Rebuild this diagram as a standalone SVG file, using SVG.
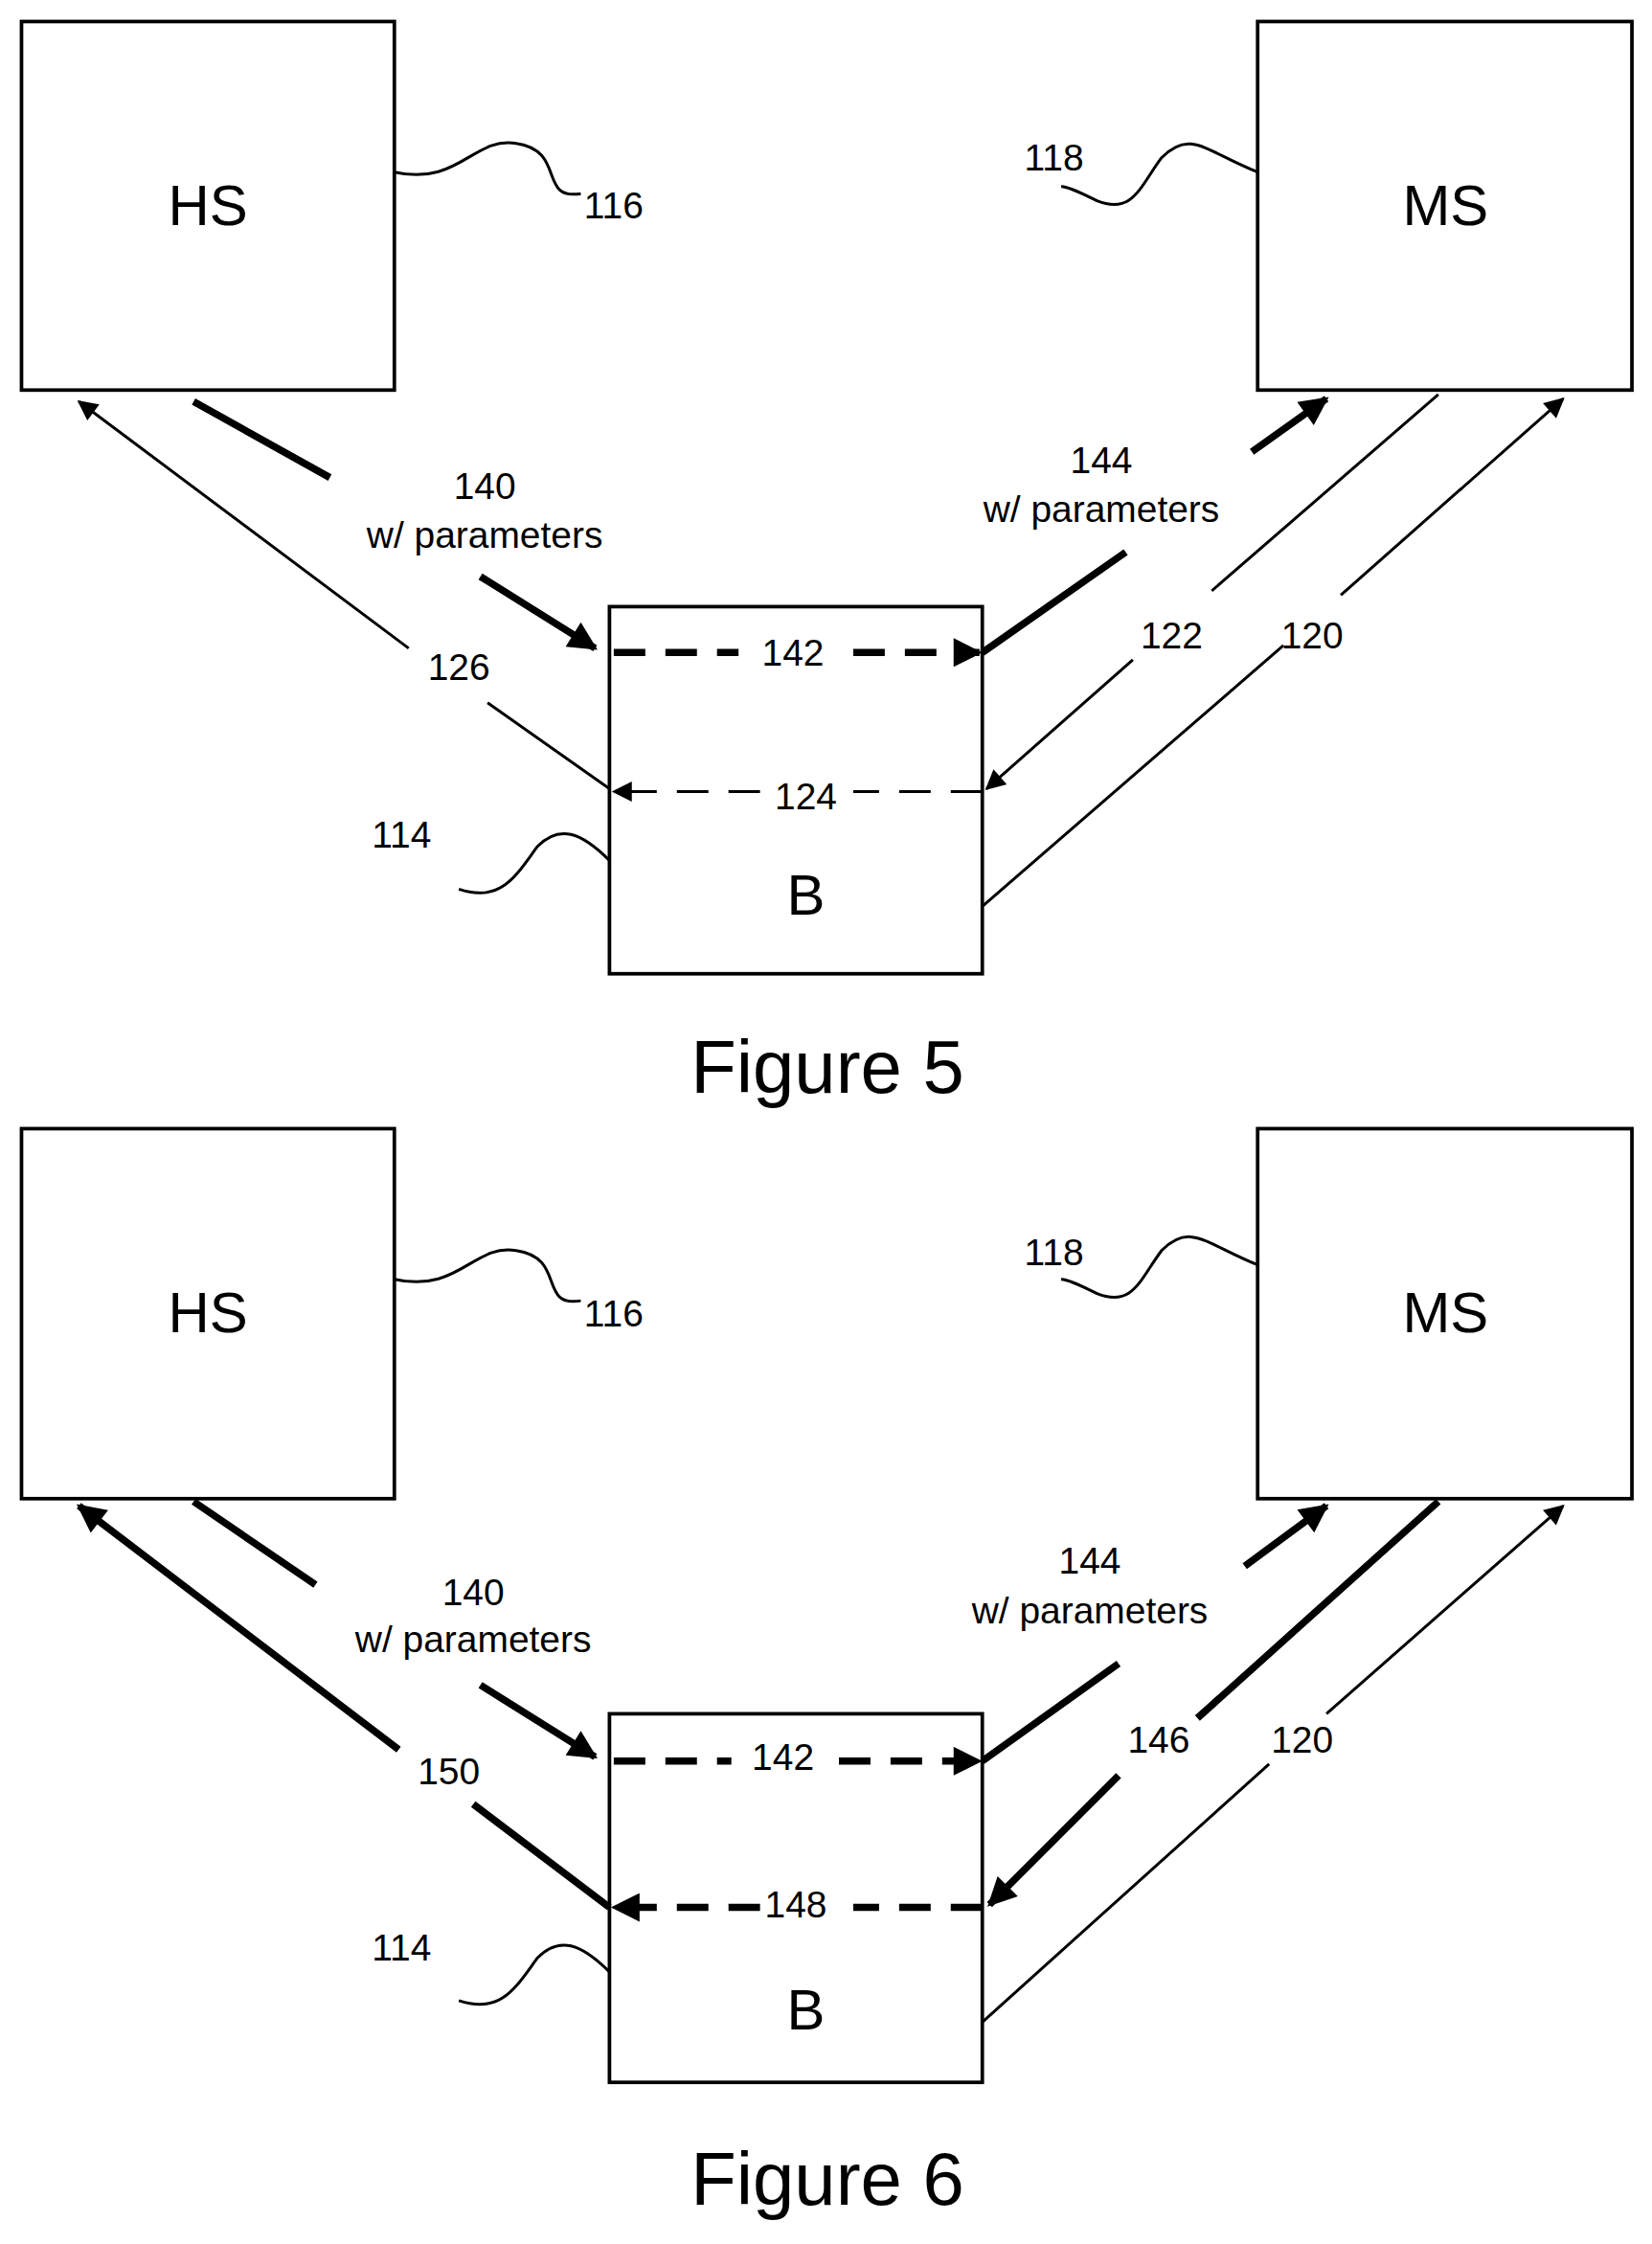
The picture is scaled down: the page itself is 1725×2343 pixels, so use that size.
<svg xmlns="http://www.w3.org/2000/svg" width="1725" height="2343" viewBox="0 0 1725 2343">
<defs>
<style>
.box{fill:#fff;stroke:#000;stroke-width:2.5}
.t{font-family:"Liberation Sans",Arial,sans-serif;text-anchor:middle;fill:#000}
.big{font-size:40px}.num{font-size:26px}.fig{font-size:52px}
.thin{stroke:#000;stroke-width:2;fill:none}
.thick{stroke:#000;stroke-width:5;fill:none}
.dash{stroke-dasharray:22,14}
</style>
<marker id="at" viewBox="0 0 10 10" refX="9" refY="5" markerWidth="22" markerHeight="14" orient="auto" markerUnits="userSpaceOnUse"><path d="M0,0L10,5L0,10z" fill="#000"/></marker>
<marker id="atk" viewBox="0 0 10 10" refX="9" refY="5" markerWidth="5" markerHeight="4" orient="auto"><path d="M0,0L10,5L0,10z" fill="#000"/></marker>
</defs>
<rect width="1725" height="2343" fill="#fff"/>
<g transform="scale(1.4974)">
<g id="fig5">
<g id="hs5"><rect class="box" x="15" y="15" width="260" height="257"/><text class="t big" x="145" y="157">HS</text></g>
<g id="ms5"><rect class="box" x="877" y="15" width="261" height="257"/><text class="t big" x="1008" y="157">MS</text></g>
<g id="b5"><rect class="box" x="425" y="423" width="260" height="256"/><text class="t big" x="562" y="638">B</text></g>
<g id="connectors5">
<path class="thin" d="M275,120 C320,130 330,95 360,100 C395,105 375,140 405,135"/>
<path class="thin" d="M877,120 C840,105 830,90 810,110 C795,130 790,150 765,140 C755,135 745,130 740,130"/>
<path class="thin" d="M425,600 C405,580 390,575 375,590 C360,610 350,630 320,620"/>
<path class="thin" d="M425,550 L340,490 M285,452 L55,280" marker-end="url(#at)"/>
<path class="thick" d="M135,280 L230,333"/>
<path class="thick" d="M335,402 L415,452" marker-end="url(#atk)"/>
<path class="thick dash" d="M428,455 L515,455 M595,455 L683,455" marker-end="url(#atk)"/>
<path class="thick" d="M685,455 L785,385"/>
<path class="thick" d="M873,315 L925,278" marker-end="url(#atk)"/>
<path class="thin" d="M1003,275 L845,412 M790,460 L688,550" marker-end="url(#at)"/>
<path class="thin dash" d="M685,552 L595,552 M530,552 L428,552" marker-end="url(#at)"/>
<path class="thin" d="M685,632 L895,450 M935,415 L1090,278" marker-end="url(#at)"/>
<text class="t num" x="428" y="152">116</text>
<text class="t num" x="735" y="119">118</text>
<text class="t num" x="280" y="591">114</text>
<text class="t num" x="338" y="348">140</text>
<text class="t num" x="338" y="382">w/ parameters</text>
<text class="t num" x="768" y="330">144</text>
<text class="t num" x="768" y="364">w/ parameters</text>
<text class="t num" x="320" y="474">126</text>
<text class="t num" x="553" y="464">142</text>
<text class="t num" x="562" y="564">124</text>
<text class="t num" x="817" y="452">122</text>
<text class="t num" x="915" y="452">120</text>
</g>
<text class="t fig" x="577" y="762">Figure 5</text>
</g>
<g id="fig6">
<g id="hs6"><rect class="box" x="15" y="787" width="260" height="258"/><text class="t big" x="145" y="929">HS</text></g>
<g id="ms6"><rect class="box" x="877" y="787" width="261" height="258"/><text class="t big" x="1008" y="929">MS</text></g>
<g id="b6"><rect class="box" x="425" y="1195" width="260" height="257"/><text class="t big" x="562" y="1415">B</text></g>
<g id="connectors6">
<path class="thin" d="M275,892 C320,902 330,867 360,872 C395,877 375,912 405,907"/>
<path class="thin" d="M877,882 C840,867 830,852 810,872 C795,892 790,912 765,902 C755,897 745,892 740,892"/>
<path class="thin" d="M425,1375 C405,1355 390,1350 375,1365 C360,1385 350,1405 320,1395"/>
<path class="thick" d="M425,1330 L330,1258 M278,1220 L55,1050" marker-end="url(#atk)"/>
<path class="thick" d="M135,1047 L220,1105"/>
<path class="thick" d="M335,1175 L415,1225" marker-end="url(#atk)"/>
<path class="thick dash" d="M428,1228 L510,1228 M585,1228 L683,1228" marker-end="url(#atk)"/>
<path class="thick" d="M685,1228 L780,1160"/>
<path class="thick" d="M868,1092 L925,1050" marker-end="url(#atk)"/>
<path class="thick" d="M1003,1047 L835,1198 M780,1238 L690,1328" marker-end="url(#atk)"/>
<path class="thick dash" d="M685,1330 L595,1330 M530,1330 L428,1330" marker-end="url(#atk)"/>
<path class="thin" d="M685,1410 L885,1230 M925,1195 L1090,1050" marker-end="url(#at)"/>
<text class="t num" x="428" y="925">116</text>
<text class="t num" x="735" y="882">118</text>
<text class="t num" x="280" y="1367">114</text>
<text class="t num" x="330" y="1119">140</text>
<text class="t num" x="330" y="1152">w/ parameters</text>
<text class="t num" x="760" y="1097">144</text>
<text class="t num" x="760" y="1132">w/ parameters</text>
<text class="t num" x="313" y="1244">150</text>
<text class="t num" x="546" y="1234">142</text>
<text class="t num" x="555" y="1337">148</text>
<text class="t num" x="808" y="1222">146</text>
<text class="t num" x="908" y="1222">120</text>
</g>
<text class="t fig" x="577" y="1537">Figure 6</text>
</g>
</g>
</svg>
